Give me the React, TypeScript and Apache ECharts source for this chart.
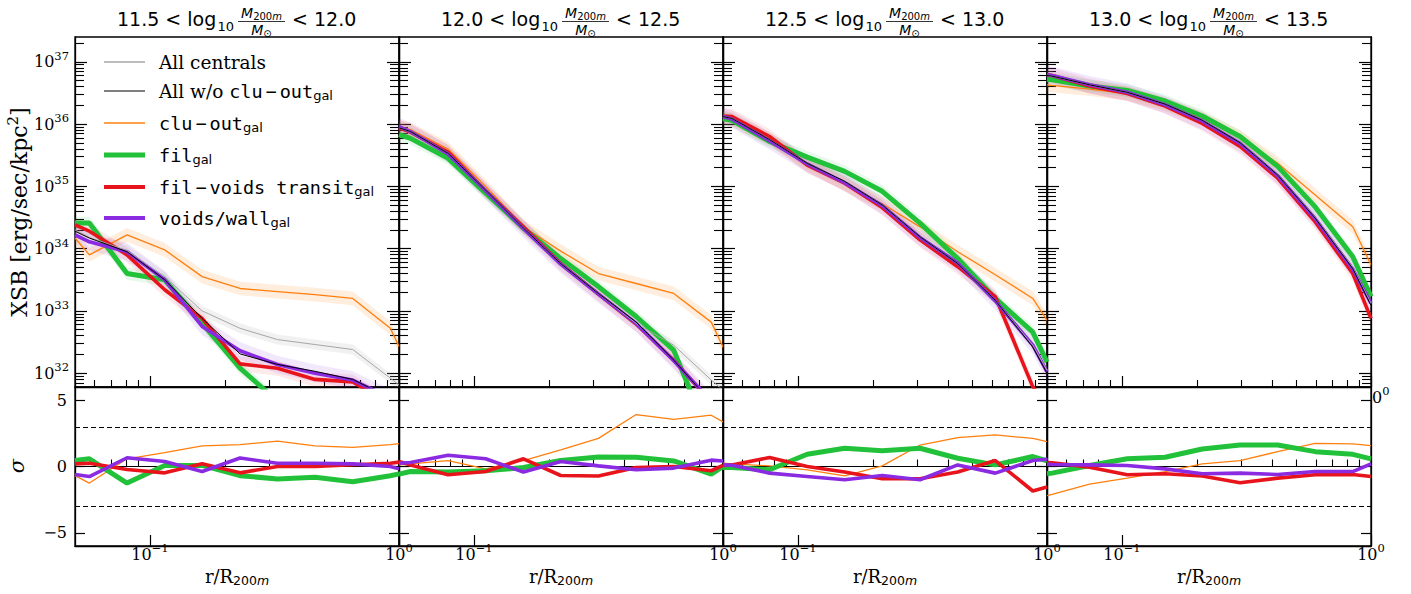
import React, { useEffect, useRef } from "react";
import * as echarts from "echarts";

// ---------------- labels ----------------
const massBinEdges = [
  ["11.5", "12.0"],
  ["12.0", "12.5"],
  ["12.5", "13.0"],
  ["13.0", "13.5"],
];

// ---------------- radii r/R200m (first / last entries sit on the plot edges) ----------------
const p1Radii = [0.05, 0.0571, 0.0809, 0.1146, 0.162, 0.23, 0.325, 0.46, 0.652, 0.923, 1.0];
const p2Radii = [0.05, 0.0556, 0.0787, 0.1114, 0.158, 0.223, 0.316, 0.448, 0.634, 0.897, 1.0];
const p3Radii = [0.05, 0.0543, 0.0769, 0.1089, 0.154, 0.218, 0.309, 0.438, 0.62, 0.877, 1.0];
const p4Radii = [0.05, 0.0524, 0.0741, 0.105, 0.149, 0.21, 0.298, 0.422, 0.597, 0.845, 1.0];

// ---------------- log10 XSB [erg/sec/kpc^2] ----------------
const p1All = [34.3, 34.18, 33.97, 33.55, 33.0, 32.72, 32.54, 32.46, 32.38, 31.92, 31.81];
const p1AllWo = [34.28, 34.17, 33.95, 33.5, 32.88, 32.31, 32.14, 32.03, 31.9, 31.6, 31.5];
const p1CluOut = [34.17, 33.9, 34.22, 33.98, 33.55, 33.36, 33.31, 33.26, 33.2, 32.72, 32.43];
const p1Fil = [34.41, 34.41, 33.6, 33.5, 32.8, 32.08, 31.55, 31.1, 30.8, 30.5, 30.4];
const p1FilVoids = [34.38, 34.28, 33.9, 33.34, 32.88, 32.15, 32.08, 31.9, 31.86, 31.5, 31.4];
const p1VoidsWall = [34.22, 34.11, 33.95, 33.5, 32.75, 32.36, 32.14, 32.0, 31.89, 31.6, 31.5];

const p2All = [35.94, 35.88, 35.53, 34.94, 34.33, 33.76, 33.28, 32.8, 32.45, 31.89, 31.73];
const p2AllWo = [35.94, 35.88, 35.53, 34.94, 34.33, 33.76, 33.28, 32.82, 32.21, 31.53, 31.4];
const p2CluOut = [35.96, 35.91, 35.6, 35.0, 34.35, 33.96, 33.6, 33.44, 33.28, 32.82, 32.42];
const p2Fil = [35.83, 35.77, 35.45, 34.89, 34.33, 33.84, 33.39, 32.91, 32.37, 30.9, 30.6];
const p2FilVoids = [35.94, 35.87, 35.55, 34.93, 34.35, 33.76, 33.27, 32.79, 32.21, 31.53, 31.38];
const p2VoidsWall = [35.96, 35.88, 35.52, 34.93, 34.32, 33.75, 33.27, 32.8, 32.2, 31.55, 31.4];

const p3All = [36.12, 36.09, 35.75, 35.37, 35.08, 34.7, 34.19, 33.76, 33.17, 32.45, 32.05];
const p3AllWo = [36.12, 36.09, 35.75, 35.37, 35.08, 34.7, 34.19, 33.76, 33.17, 32.42, 32.0];
const p3CluOut = [36.11, 36.07, 35.76, 35.35, 35.03, 34.72, 34.35, 33.95, 33.58, 33.2, 32.85];
const p3Fil = [36.09, 36.06, 35.72, 35.47, 35.24, 34.92, 34.41, 33.84, 33.2, 32.66, 32.18];
const p3FilVoids = [36.13, 36.12, 35.8, 35.34, 35.05, 34.66, 34.14, 33.71, 33.23, 31.78, 31.5];
const p3VoidsWall = [36.12, 36.08, 35.73, 35.36, 35.06, 34.69, 34.18, 33.77, 33.16, 32.45, 32.02];

const p4All = [36.78, 36.77, 36.63, 36.51, 36.32, 36.06, 35.7, 35.18, 34.5, 33.7, 33.12];
const p4AllWo = [36.78, 36.77, 36.63, 36.51, 36.32, 36.06, 35.7, 35.18, 34.49, 33.68, 33.09];
const p4CluOut = [36.63, 36.62, 36.56, 36.49, 36.32, 36.09, 35.79, 35.37, 34.86, 34.35, 33.74];
const p4Fil = [36.72, 36.71, 36.61, 36.54, 36.37, 36.13, 35.8, 35.32, 34.67, 33.87, 33.23];
const p4FilVoids = [36.79, 36.78, 36.61, 36.49, 36.29, 36.01, 35.64, 35.13, 34.43, 33.6, 32.88];
const p4VoidsWall = [36.79, 36.78, 36.63, 36.51, 36.31, 36.05, 35.69, 35.17, 34.48, 33.67, 33.12];

// ---------------- sigma deviations ----------------
const p1SigCluOut = [-0.69, -1.25, 0.58, 1.04, 1.55, 1.65, 1.91, 1.55, 1.45, 1.65, 1.73];
const p1SigFil = [0.46, 0.58, -1.25, 0.08, 0.08, -0.69, -0.94, -0.81, -1.15, -0.7, -0.56];
const p1SigFilVoids = [0.2, 0.25, -0.23, -0.48, 0.2, -0.48, 0.0, 0.0, 0.13, 0.25, 0.33];
const p1SigVoidsWall = [-0.61, -0.76, 0.66, 0.38, -0.38, 0.64, 0.25, 0.25, 0.2, 0.0, -0.18];

const p2SigCluOut = [0.12, 0.2, 0.45, -0.18, 0.45, 1.25, 2.12, 3.92, 3.55, 3.87, 3.37];
const p2SigFil = [-0.58, -0.38, -0.42, -0.33, -0.08, 0.45, 0.72, 0.7, 0.42, -0.58, 0.0];
const p2SigFilVoids = [0.38, 0.12, -0.62, -0.38, 0.58, -0.68, -0.72, -0.08, 0.0, -0.32, 0.08];
const p2SigVoidsWall = [0.25, 0.3, 0.85, 0.58, -0.42, 0.38, 0.05, -0.25, -0.12, 0.48, 0.42];

const p3SigCluOut = [0.25, 0.2, 0.05, -0.25, -0.7, 0.05, 1.62, 2.18, 2.38, 2.12, 1.88];
const p3SigFil = [-0.08, -0.08, -0.25, 0.92, 1.38, 1.18, 1.38, 0.62, 0.12, 0.75, 0.42];
const p3SigFilVoids = [0.08, 0.12, 0.68, 0.0, -0.42, -0.92, -0.92, -0.42, 0.45, -1.85, -1.55];
const p3SigVoidsWall = [0.12, 0.1, -0.5, -0.75, -1.0, -0.68, -1.0, 0.12, -0.5, 0.45, 0.55];

const p4SigCluOut = [-2.2, -2.1, -1.33, -0.88, -0.38, 0.2, 0.45, 1.12, 1.75, 1.7, 1.58];
const p4SigFil = [-0.55, -0.5, 0.08, 0.58, 0.7, 1.32, 1.62, 1.62, 1.12, 0.92, 0.58];
const p4SigFilVoids = [0.3, 0.28, -0.05, -0.62, -0.55, -0.72, -1.22, -0.88, -0.62, -0.6, -0.75];
const p4SigVoidsWall = [0.18, 0.15, 0.12, 0.08, -0.18, -0.55, -0.5, -0.6, -0.38, -0.38, 0.2];

// ---------------- ticks ----------------
const xMajorTicks = [0.1, 1.0];
const xMinorTicks = [0.06, 0.07, 0.08, 0.09, 0.2, 0.3, 0.4, 0.5, 0.6, 0.7, 0.8, 0.9];
const yDecadeTicks = [1e32, 1e33, 1e34, 1e35, 1e36, 1e37];
const sigmaTicks = [-5, 0, 5];
const sigmaGuides = [-3, 3];

const X_MIN = 0.05, X_MAX = 1.0;
const Y_MIN = 6e31, Y_MAX = 2.5e37;

const yMinorTicks: number[] = [];
for (let e = 31; e <= 37; e++) {
  for (let m = 2; m <= 9; m++) {
    const v = m * Math.pow(10, e);
    if (v > Y_MIN && v < Y_MAX) yMinorTicks.push(v);
  }
}

const panels = [
  { radii: p1Radii, xsb: { all: p1All, allWo: p1AllWo, cluOut: p1CluOut, fil: p1Fil, filVoids: p1FilVoids, voidsWall: p1VoidsWall }, sig: { cluOut: p1SigCluOut, fil: p1SigFil, filVoids: p1SigFilVoids, voidsWall: p1SigVoidsWall } },
  { radii: p2Radii, xsb: { all: p2All, allWo: p2AllWo, cluOut: p2CluOut, fil: p2Fil, filVoids: p2FilVoids, voidsWall: p2VoidsWall }, sig: { cluOut: p2SigCluOut, fil: p2SigFil, filVoids: p2SigFilVoids, voidsWall: p2SigVoidsWall } },
  { radii: p3Radii, xsb: { all: p3All, allWo: p3AllWo, cluOut: p3CluOut, fil: p3Fil, filVoids: p3FilVoids, voidsWall: p3VoidsWall }, sig: { cluOut: p3SigCluOut, fil: p3SigFil, filVoids: p3SigFilVoids, voidsWall: p3SigVoidsWall } },
  { radii: p4Radii, xsb: { all: p4All, allWo: p4AllWo, cluOut: p4CluOut, fil: p4Fil, filVoids: p4FilVoids, voidsWall: p4VoidsWall }, sig: { cluOut: p4SigCluOut, fil: p4SigFil, filVoids: p4SigFilVoids, voidsWall: p4SigVoidsWall } },
];

// ---------------- styles ----------------
const ORANGE = "#ff7f0e";
const GREEN = "#22c13a";
const RED = "#e8141c";
const PURPLE = "#8a2be2";
const GRAY = "#a6a6a6";
const BLACK = "#000000";

const SERIF = "'DejaVu Serif', serif";
const SANS = "'DejaVu Sans', sans-serif";
const MONO = "'DejaVu Sans Mono', monospace";

const seriesSpecs = [
  { key: "cluOut", color: ORANGE, width: 1.3, band: 0.11, bandOpacity: 0.14, z: 3 },
  { key: "fil", color: GREEN, width: 5, band: 0.1, bandOpacity: 0.1, z: 4 },
  { key: "filVoids", color: RED, width: 3.6, band: 0.12, bandOpacity: 0.09, z: 5 },
  { key: "voidsWall", color: PURPLE, width: 3.6, band: 0.14, bandOpacity: 0.11, z: 6 },
  { key: "all", color: GRAY, width: 1, band: 0.08, bandOpacity: 0.16, z: 7 },
  { key: "allWo", color: BLACK, width: 1, band: 0, bandOpacity: 0, z: 8 },
];

const PANEL_LEFT = [75, 399, 723, 1047];
const PANEL_W = 324;
const TOP_Y = 37, TOP_H = 350, BOT_Y = 387, BOT_H = 159;

const tickRich = {
  b: { fontFamily: SERIF, fontSize: 16, color: "#000" },
  s: { fontFamily: SERIF, fontSize: 11.5, color: "#000", padding: [0, 0, 12, 0] },
};

function powLabel(v: number) {
  const e = Math.round(Math.log10(v));
  const es = e < 0 ? "\u2212" + Math.abs(e) : String(e);
  return "{b|10}{s|" + es + "}";
}

function buildOption() {
  const grid: any[] = [];
  const xAxis: any[] = [];
  const yAxis: any[] = [];
  const series: any[] = [];

  for (let g = 0; g < 8; g++) {
    const col = g % 4;
    const isBottom = g >= 4;
    grid.push({
      left: PANEL_LEFT[col],
      top: isBottom ? BOT_Y : TOP_Y,
      width: PANEL_W,
      height: isBottom ? BOT_H : TOP_H,
      show: true,
      borderColor: "#000",
      borderWidth: 1.3,
      backgroundColor: "rgba(0,0,0,0)",
      containLabel: false,
      outerBoundsMode: "none",
    });
    xAxis.push({
      type: "log", logBase: 10, gridIndex: g, min: X_MIN, max: X_MAX, position: "bottom",
      axisLine: { show: true, onZero: false, lineStyle: { color: "#000", width: 1.3 } },
      axisTick: { show: true, inside: true, length: 11, customValues: xMajorTicks, lineStyle: { color: "#000", width: 1.2 } },
      axisLabel: { show: isBottom, customValues: xMajorTicks, formatter: (v: number) => powLabel(v), rich: tickRich, margin: -4 },
      splitLine: { show: false }, minorTick: { show: false },
    });
    xAxis.push({
      type: "log", logBase: 10, gridIndex: g, min: X_MIN, max: X_MAX, position: "bottom",
      axisLine: { show: false },
      axisTick: { show: true, inside: true, length: 7, customValues: xMinorTicks, lineStyle: { color: "#000", width: 1.1 } },
      axisLabel: { show: false },
      splitLine: { show: false },
    });
  }

  for (let c = 0; c < 4; c++) {
    const base = { type: "log", logBase: 10, gridIndex: c, min: Y_MIN, max: Y_MAX, splitLine: { show: false } };
    yAxis.push({
      ...base, position: "left",
      axisLine: { show: true, lineStyle: { color: "#000", width: 1.3 } },
      axisTick: { show: true, inside: true, length: 12, customValues: yDecadeTicks, lineStyle: { color: "#000", width: 1.2 } },
      axisLabel: { show: c === 0, customValues: yDecadeTicks, formatter: (v: number) => powLabel(v), rich: tickRich, margin: 6 },
    });
    yAxis.push({
      ...base, position: "left", axisLine: { show: false },
      axisTick: { show: true, inside: true, length: 9, customValues: yMinorTicks, lineStyle: { color: "#000", width: 1.1 } },
      axisLabel: { show: false },
    });
    yAxis.push({
      ...base, position: "right",
      axisLine: { show: true, lineStyle: { color: "#000", width: 1.3 } },
      axisTick: { show: true, inside: true, length: 12, customValues: yDecadeTicks, lineStyle: { color: "#000", width: 1.2 } },
      axisLabel: { show: false },
    });
    yAxis.push({
      ...base, position: "right", axisLine: { show: false },
      axisTick: { show: true, inside: true, length: 9, customValues: yMinorTicks, lineStyle: { color: "#000", width: 1.1 } },
      axisLabel: { show: false },
    });
  }
  for (let c = 0; c < 4; c++) {
    const base = { type: "value", gridIndex: 4 + c, min: -6, max: 6, splitLine: { show: false } };
    yAxis.push({
      ...base, position: "left",
      axisLine: { show: true, lineStyle: { color: "#000", width: 1.3 } },
      axisTick: { show: true, inside: true, length: 10, customValues: sigmaTicks, lineStyle: { color: "#000", width: 1.2 } },
      axisLabel: {
        show: c === 0, customValues: sigmaTicks, margin: 8,
        formatter: (v: number) => (v < 0 ? "\u2212" + Math.abs(v) : String(v)),
        fontFamily: SERIF, fontSize: 16, color: "#000",
      },
    });
    yAxis.push({
      ...base, position: "right",
      axisLine: { show: true, lineStyle: { color: "#000", width: 1.3 } },
      axisTick: { show: true, inside: true, length: 10, customValues: sigmaTicks, lineStyle: { color: "#000", width: 1.2 } },
      axisLabel: { show: false },
    });
  }

  panels.forEach((p, c) => {
    const xTop = 2 * c, yTop = 4 * c;
    const xBot = 8 + 2 * c, yBot = 16 + 2 * c;
    seriesSpecs.forEach((s) => {
      if (!s.band) return;
      const vals = (p.xsb as any)[s.key] as number[];
      const data = p.radii.map((r, i) => [r, Math.pow(10, vals[i] - s.band), Math.pow(10, vals[i] + s.band)]);
      series.push({
        type: "custom", xAxisIndex: xTop, yAxisIndex: yTop, clip: true, silent: true, z: 1,
        data, encode: { x: 0, y: [1, 2] },
        renderItem: (params: any, api: any) => {
          if (params.dataIndex !== 0) return null;
          const up = data.map((d) => api.coord([d[0], d[2]]));
          const lo = data.map((d) => api.coord([d[0], d[1]])).reverse();
          return { type: "polygon", shape: { points: up.concat(lo) }, style: { fill: s.color, opacity: s.bandOpacity } };
        },
      });
    });
    seriesSpecs.forEach((s) => {
      const vals = (p.xsb as any)[s.key] as number[];
      series.push({
        type: "line", xAxisIndex: xTop, yAxisIndex: yTop, clip: true, silent: true, z: s.z,
        symbol: "none", showSymbol: false,
        data: p.radii.map((r, i) => [r, Math.pow(10, vals[i])]),
        lineStyle: { color: s.color, width: s.width },
        emphasis: { disabled: true },
      });
    });
    let first = true;
    seriesSpecs.forEach((s) => {
      const vals = (p.sig as any)[s.key] as number[];
      if (!vals) return;
      const ser: any = {
        type: "line", xAxisIndex: xBot, yAxisIndex: yBot, clip: true, silent: true, z: s.z,
        symbol: "none", showSymbol: false,
        data: p.radii.map((r, i) => [r, vals[i]]),
        lineStyle: { color: s.color, width: s.width },
        emphasis: { disabled: true },
      };
      if (first) {
        ser.markLine = {
          silent: true, symbol: "none", label: { show: false }, animation: false, z: 2,
          data: [
            { yAxis: 0, lineStyle: { color: "#000", width: 1.2, type: "solid" } },
            ...sigmaGuides.map((g) => ({ yAxis: g, lineStyle: { color: "#000", width: 1.2, type: [5, 3] } })),
          ],
        };
        first = false;
      }
      series.push(ser);
    });
  });

  // ---------- graphic: titles, legend, axis titles ----------
  const graphic: any[] = [];
  massBinEdges.forEach(([lo, hi], c) => {
    const cx = PANEL_LEFT[c] + PANEL_W / 2;
    graphic.push(
      { type: "text", x: cx - 120, y: 19, style: { text: `${lo} < log`, fontFamily: SANS, fontSize: 19, fill: "#000", align: "left", verticalAlign: "middle" } },
      { type: "text", x: cx - 19.5, y: 26, style: { text: "10", fontFamily: SANS, fontSize: 13, fill: "#000", align: "left", verticalAlign: "middle" } },
      {
        type: "text", x: cx + 24.5, y: 13,
        style: {
          text: "{m|M}{s|200}{si|m}", align: "center", verticalAlign: "middle",
          rich: {
            m: { fontFamily: SANS, fontStyle: "italic", fontSize: 14, fill: "#000" },
            s: { fontFamily: SANS, fontSize: 10, fill: "#000", padding: [6, 0, 0, 0] },
            si: { fontFamily: SANS, fontStyle: "italic", fontSize: 10, fill: "#000", padding: [6, 0, 0, 0] },
          },
        },
      },
      { type: "line", shape: { x1: cx + 1, y1: 21.5, x2: cx + 48, y2: 21.5 }, style: { stroke: "#000", lineWidth: 0.8 } },
      {
        type: "text", x: cx + 24.5, y: 30,
        style: {
          text: "{m|M}{s|\u2299}", align: "center", verticalAlign: "middle",
          rich: {
            m: { fontFamily: SANS, fontStyle: "italic", fontSize: 14, fill: "#000" },
            s: { fontFamily: SANS, fontSize: 10, fill: "#000", padding: [6, 0, 0, 0] },
          },
        },
      },
      { type: "text", x: cx + 55, y: 19, style: { text: `< ${hi}`, fontFamily: SANS, fontSize: 19, fill: "#000", align: "left", verticalAlign: "middle" } },
      {
        type: "text", x: cx, y: 576,
        style: {
          text: "{n|r/R}{s|200}{si|m}", align: "center", verticalAlign: "middle",
          rich: {
            n: { fontFamily: SERIF, fontSize: 18, fill: "#000" },
            s: { fontFamily: SANS, fontSize: 12.5, fill: "#000", padding: [9, 0, 0, 0] },
            si: { fontFamily: SANS, fontStyle: "italic", fontSize: 12.5, fill: "#000", padding: [9, 0, 0, 0] },
          },
        },
      }
    );
  });

  graphic.push({
    type: "text", x: 19, y: 212, rotation: Math.PI / 2,
    style: {
      text: "{n|XSB [erg/sec/kpc}{s|2}{n|]}", align: "center", verticalAlign: "middle",
      rich: {
        n: { fontFamily: SERIF, fontSize: 22, fill: "#000" },
        s: { fontFamily: SERIF, fontSize: 15, fill: "#000", padding: [0, 0, 12, 0] },
      },
    },
  });
  graphic.push({
    type: "text", x: 17, y: 466, rotation: Math.PI / 2,
    style: { text: "\u03c3", fontFamily: SERIF, fontStyle: "italic", fontSize: 21, fill: "#000", align: "center", verticalAlign: "middle" },
  });
  graphic.push({
    type: "text", x: 1372, y: 397,
    style: {
      text: "{b|0}{s|0}", align: "left", verticalAlign: "middle",
      rich: {
        b: { fontFamily: SERIF, fontSize: 16, fill: "#000" },
        s: { fontFamily: SERIF, fontSize: 11.5, fill: "#000", padding: [0, 0, 12, 0] },
      },
    },
  });

  const legendRich = {
    se: { fontFamily: SERIF, fontSize: 18.5, fill: "#000" },
    mo: { fontFamily: MONO, fontSize: 18.5, fill: "#000" },
    op: { fontFamily: MONO, fontSize: 18.5, fill: "#000", padding: [0, 3, 0, 3] },
    sub: { fontFamily: SANS, fontSize: 13, fill: "#000", padding: [9, 0, 0, 0] },
  };
  const legendItems = [
    { color: GRAY, width: 1.3, text: "{se|All centrals}" },
    { color: BLACK, width: 1.1, text: "{se|All w/o }{mo|clu}{op|\u2212}{mo|out}{sub|gal}" },
    { color: ORANGE, width: 1.5, text: "{mo|clu}{op|\u2212}{mo|out}{sub|gal}" },
    { color: GREEN, width: 5, text: "{mo|fil}{sub|gal}" },
    { color: RED, width: 4, text: "{mo|fil}{op|\u2212}{mo|voids transit}{sub|gal}" },
    { color: PURPLE, width: 4, text: "{mo|voids/wall}{sub|gal}" },
  ];
  const legendRowsY = [62, 91, 123, 155, 187, 218];
  legendItems.forEach((it, i) => {
    const y = legendRowsY[i];
    graphic.push({ type: "line", shape: { x1: 104, y1: y, x2: 145, y2: y }, style: { stroke: it.color, lineWidth: it.width } });
    graphic.push({ type: "text", x: 159, y: y, style: { text: it.text, rich: legendRich, align: "left", verticalAlign: "middle" } });
  });

  return {
    animation: false,
    backgroundColor: "#fff",
    grid, xAxis, yAxis, series, graphic,
  };
}

export default function App() {
  const ref = useRef<HTMLDivElement>(null);
  useEffect(() => {
    if (!ref.current) return;
    const chart = echarts.init(ref.current, null, { renderer: "svg" });
    chart.setOption(buildOption() as any);
    return () => chart.dispose();
  }, []);
  return <div ref={ref} style={{ position: "absolute", left: 0, top: 0, width: 1411, height: 594 }} />;
}
